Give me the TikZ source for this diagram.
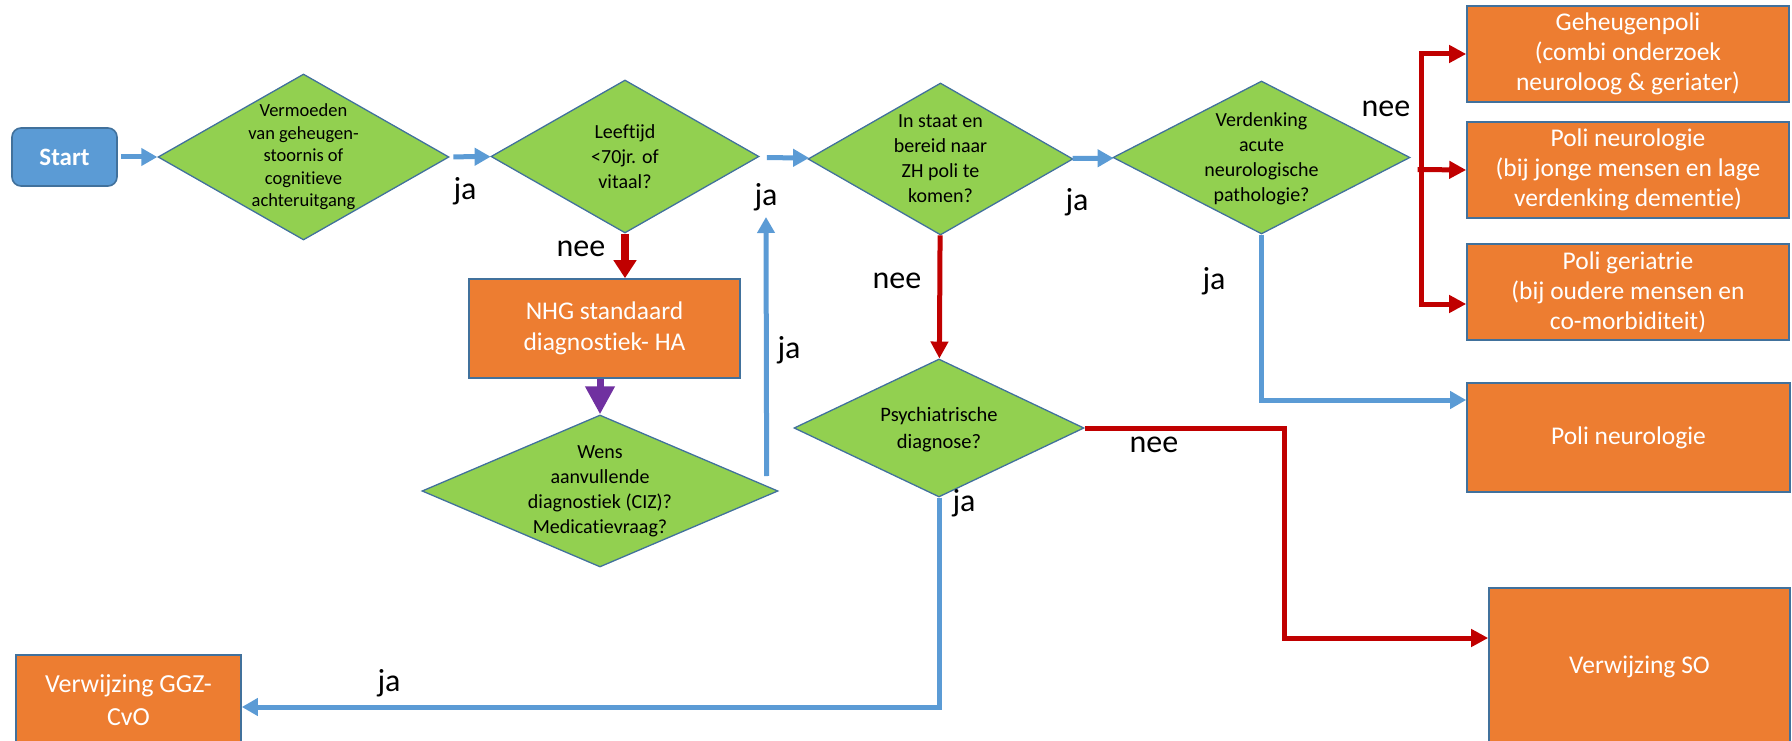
\documentclass[tikz,border=0pt]{standalone}
\usepackage{fontspec}
\setmainfont{Carlito}[Ligatures=NoCommon]
\usetikzlibrary{shapes.geometric,arrows.meta}

\definecolor{startblue}{HTML}{5B9BD5}
\definecolor{edgeblue}{HTML}{41719C}
\definecolor{diagreen}{HTML}{92D050}
\definecolor{boxorange}{HTML}{ED7D31}
\definecolor{linkred}{HTML}{C00000}
\definecolor{linkpurple}{HTML}{7030A0}

\tikzset{
  question/.style={diamond, draw=edgeblue, fill=diagreen, line width=1.3pt, inner sep=0pt},
  qtext/.style={align=center, font=\fontsize{20}{25}\selectfont},
  action/.style={draw=edgeblue, fill=boxorange, line width=1.6pt, inner sep=2pt,
    text=white, align=center, font=\fontsize{25.5}{31}\selectfont},
  answer/.style={font=\fontsize{32}{38}\selectfont},
  yesarrow/.style={draw=startblue, line width=5pt, -{Triangle[width=17pt,length=16pt]}},
  noarrow/.style={draw=linkred, line width=5pt, -{Triangle[width=17pt,length=17pt]}},
}

\begin{document}
\begin{tikzpicture}[x=1pt, y=-1pt]
\useasboundingbox (0,0) rectangle (1792,741);

\node[draw=edgeblue, fill=startblue, line width=1.6pt, rounded corners=9pt,
  minimum width=105pt, minimum height=58pt, text=white,
  font=\bfseries\fontsize{25}{30}\selectfont] (start) at (64.5,157) {Start};

% questions
\node[question, minimum width=291pt, minimum height=166pt] (d1) at (303.5,157) {};
\node[qtext, font=\fontsize{18.5}{22.5}\selectfont] (d1t) at (d1) {Vermoeden\\van geheugen-\\stoornis of\\cognitieve\\achteruitgang};
\node[question, minimum width=268pt, minimum height=153pt] (d2) at (625,156.5) {};
\node[qtext] (d2t) at (d2) {Leeftijd\\<70jr. of\\vitaal?};
\node[question, minimum width=265pt, minimum height=152pt] (d3) at (940.5,159) {};
\node[qtext] (d3t) at (d3) {In staat en\\bereid naar\\ZH poli te\\komen?};
\node[question, minimum width=297pt, minimum height=153pt] (d4) at (1261.5,157.5) {};
\node[qtext] (d4t) at ([yshift=-1pt]d4) {Verdenking\\acute\\neurologische\\pathologie?};
\node[question, minimum width=356pt, minimum height=152pt] (d5) at (600,491) {};
\node[qtext] (d5t) at (d5) {Wens\\aanvullende\\diagnostiek (CIZ)?\\Medicatievraag?};
\node[question, minimum width=290pt, minimum height=138pt] (d6) at (939,428) {};
\node[qtext, font=\fontsize{20.5}{27}\selectfont] (d6t) at ([yshift=-2pt]d6) {Psychiatrische\\diagnose?};

% outcomes
\node[action, minimum width=271pt, minimum height=99pt] (nhg) at (604.5,328.5) {NHG standaard\\diagnostiek- HA};
\node[action, minimum width=322pt, minimum height=96pt, font=\fontsize{25.5}{30}\selectfont] (gpoli) at (1628,54) {Geheugenpoli\\(combi onderzoek\\neuroloog \& geriater)};
\node[action, minimum width=322pt, minimum height=96pt, font=\fontsize{25.5}{30}\selectfont] (npoli) at (1628,170) {Poli neurologie\\(bij jonge mensen en lage\\verdenking dementie)};
\node[action, minimum width=322pt, minimum height=96pt, font=\fontsize{25.5}{30}\selectfont] (gerpoli) at (1628,292) {Poli geriatrie\\(bij oudere mensen en\\co-morbiditeit)};
\node[action, minimum width=323pt, minimum height=109pt] (neuro) at (1628.5,437.5) {Poli neurologie};
\node[action, minimum width=301pt, minimum height=158pt] (so) at (1639.5,667) {Verwijzing SO};
\node[action, minimum width=225pt, minimum height=90pt, font=\fontsize{26}{33}\selectfont] (ggz) at (128.5,700) {Verwijzing GGZ-\\CvO};

% connectors
\draw[yesarrow, shorten <=3pt] (start) -- (d1);
\draw[yesarrow, shorten <=4pt] (d1) -- (d2);
\draw[yesarrow, shorten <=9pt] (d2) -- (d3);
\draw[yesarrow] (d3) -- (d4);
\draw[linkred, line width=8pt, -{Triangle[width=22pt,length=18pt]}] (d2.south) -- (d2.south |- nhg.north);
\draw[linkpurple, line width=7pt, -{Triangle[width=28pt,length=28pt]}] (d5.north |- nhg.south) -- (d5.north);
\coordinate (rejoin) at (766,217);
\draw[yesarrow] ([xshift=-12pt,yshift=15pt]d5.east) -- (rejoin);
\draw[noarrow] (d3) -- (d6);
\draw[yesarrow] (d4.south) |- ([yshift=37.5pt]neuro.west);

\coordinate (split) at (1421,170);
\draw[noarrow] ([xshift=7pt,yshift=-12pt]d4.east) -- (npoli.west);
\draw[noarrow] (split) |- (gpoli.west);
\draw[noarrow] (split) |- ([yshift=-12pt]gerpoli.west);

\draw[noarrow] (d6.east) -- ++(200,0) |- ([yshift=29pt]so.west);
\draw[yesarrow] (d6.south) |- ([yshift=-7pt]ggz.east);

\foreach \name/\x/\y/\txt in%
    {ja1/465/191/ja,
     ja2/766/197/ja,
     ja3/1077/202/ja,
     nee1/581/249/nee,
     nee2/897/281/nee,
     ja4/1214/281/ja,
     ja5/789/350/ja,
     nee3/1386/109/nee,
     nee4/1154/445/nee,
     ja6/964/503/ja,
     ja7/389/683/ja} {
  \node[answer] (\name) at (\x,\y) {\txt};
}

\end{tikzpicture}
\end{document}
